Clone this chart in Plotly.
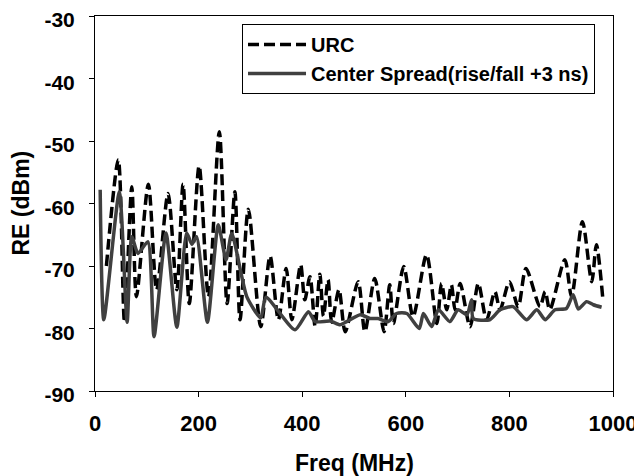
import plotly.graph_objects as go

# URC (dashed) series
urc_freq = [22, 45, 57, 71, 80, 103, 119, 141, 158, 170, 182, 201, 219, 240, 255, 270, 280, 296,
            320, 338, 354, 369, 380, 397, 405, 415, 425, 434, 441, 450, 457, 471, 483, 508, 521,
            540, 558, 569, 576, 596, 614, 640, 660, 669, 679, 688, 695, 705, 724, 740, 756, 772,
            782, 800, 817, 832, 859, 869, 878, 907, 920, 941, 959, 968, 980]
urc_dbm = [-70.0, -53.0, -79.0, -57.3, -74.9, -56.9, -73.8, -58.4, -73.8, -56.9, -76.0, -54.0,
           -74.9, -48.5, -76.0, -58.1, -78.6, -60.9, -79.7, -68.4, -78.6, -70.4, -78.6, -69.8,
           -75.4, -71.7, -79.7, -71.3, -78.0, -72.2, -79.0, -73.8, -80.5, -72.5, -80.5, -72.0,
           -80.5, -73.0, -79.2, -70.1, -78.1, -68.2, -79.2, -72.8, -77.0, -73.0, -77.0, -72.8,
           -79.7, -72.8, -78.6, -74.1, -77.0, -72.5, -76.5, -70.4, -76.5, -74.1, -77.0, -69.0,
           -74.9, -62.9, -72.5, -66.6, -74.9]

# Center Spread (solid) series
cs_freq = [10, 17, 47, 62, 71, 83, 102, 114, 137, 158, 177, 187, 196, 217, 238, 253, 264, 293,
           320, 330, 386, 412, 425, 454, 473, 486, 512, 531, 546, 566, 582, 602, 626, 634, 650,
           663, 685, 701, 718, 727, 730, 762, 782, 807, 833, 853, 869, 888, 910, 923, 933, 949,
           962, 978]
cs_dbm = [-57.8, -78.6, -58.1, -79.0, -65.3, -68.0, -66.1, -81.3, -64.7, -79.8, -64.7, -66.5,
          -65.3, -79.0, -63.4, -69.0, -64.8, -74.9, -78.3, -75.0, -80.2, -77.3, -78.9, -78.8,
          -79.4, -78.9, -77.8, -78.4, -78.4, -78.9, -77.6, -77.6, -80.0, -77.6, -79.7, -77.0,
          -78.9, -77.0, -77.8, -75.4, -78.4, -78.6, -77.0, -76.5, -78.6, -77.0, -78.6, -77.0,
          -76.8, -74.6, -76.9, -75.7, -76.2, -76.6]

x_ticks = [0, 200, 400, 600, 800, 1000]
y_ticks = [-90, -80, -70, -60, -50, -40, -30]

FONT = "Liberation Sans, Arial, sans-serif"

fig = go.Figure()
fig.add_trace(go.Scatter(
    x=urc_freq, y=urc_dbm, mode="lines", name="URC",
    line=dict(color="black", width=3.5, dash="11px,5px", shape="spline", smoothing=0.8),
))
fig.add_trace(go.Scatter(
    x=cs_freq, y=cs_dbm, mode="lines", name="Center Spread(rise/fall +3 ns)",
    line=dict(color="#404040", width=3.5, shape="spline", smoothing=0.6),
))

axis_common = dict(
    showline=True, linecolor="black", linewidth=1, mirror=True,
    ticks="outside", ticklen=5, tickcolor="black", tickwidth=1,
    showgrid=False, zeroline=False, automargin=False,
    ticklabeloverflow="allow",
)

# page has an 8px body margin: figure is offset by (8, 8)
fig.update_layout(
    width=634, height=468,
    margin=dict(l=87, r=29, t=8, b=85, autoexpand=False),
    paper_bgcolor="white", plot_bgcolor="white",
    font=dict(family=FONT, color="black"),
    xaxis=dict(range=[0, 1000], tickvals=x_ticks, ticktext=[str(v) for v in x_ticks],
               ticklabelstandoff=8,
               tickfont=dict(family=FONT, size=22, color="black", weight="bold"),
               **axis_common),
    yaxis=dict(range=[-90, -30], tickvals=y_ticks, ticktext=[str(v) for v in y_ticks],
               ticklabelstandoff=10, ticklabelshift=4,
               tickfont=dict(family=FONT, size=21, color="black", weight="bold"),
               **axis_common),
    legend=dict(
        x=0.2838, y=0.9787, xanchor="left", yanchor="top",
        bgcolor="white", bordercolor="black", borderwidth=1,
        font=dict(family=FONT, size=20, color="black", weight="bold"),
        tracegroupgap=0, itemwidth=58,
    ),
    showlegend=True,
    annotations=[
        dict(text="Freq (MHz)", xref="paper", yref="paper", x=0.5, y=0,
             xanchor="center", yanchor="middle", yshift=-72, showarrow=False,
             font=dict(family=FONT, size=23, color="black", weight="bold")),
        dict(text="RE (dBm)", xref="paper", yref="paper", x=0, y=0.5, textangle=-90,
             xanchor="center", yanchor="middle", xshift=-75, showarrow=False,
             font=dict(family=FONT, size=23, color="black", weight="bold")),
    ],
)

fig.write_html("out.html")
